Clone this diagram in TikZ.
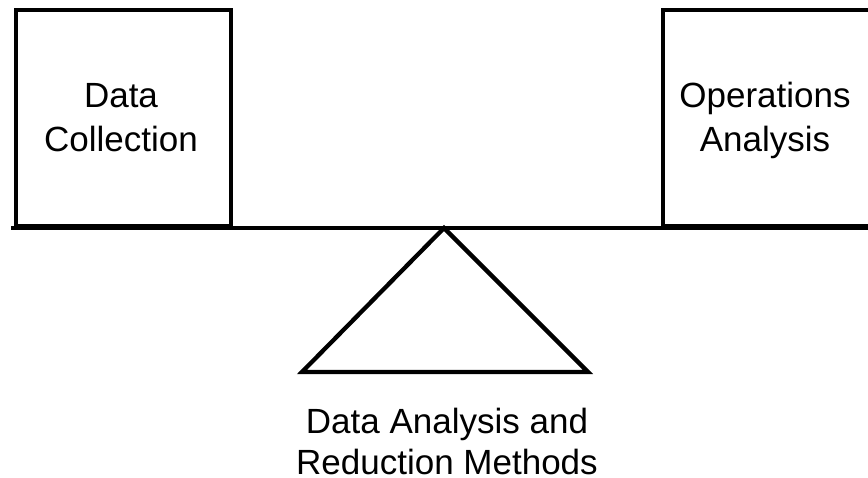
\documentclass[tikz,border=0pt]{standalone}
\usepackage{fontspec}
\setmainfont{Liberation Sans}
\begin{document}
\begin{tikzpicture}[x=1pt,y=-1pt,
  outline/.style={draw=black,line width=4.3pt},
  boxlabel/.style={align=center,anchor=base,inner sep=0pt,
    font=\fontsize{35}{44}\selectfont},
  baselabel/.style={align=center,anchor=base,inner sep=0pt,
    font=\fontsize{35}{41}\selectfont}]
  \useasboundingbox (0,0) rectangle (868,478);
  \clip (0,0) rectangle (868,478);

  % the two pans resting on the beam
  \node[outline,rectangle,inner sep=0pt,minimum width=215pt,minimum height=216pt,
        anchor=south west] (collect) at (14,228) {};
  \node[outline,rectangle,inner sep=0pt,minimum width=230pt,minimum height=216pt,
        anchor=south west] (ops) at (661,228) {};

  % the beam
  \coordinate (beamL) at (11,228);
  \coordinate (beamR) at (880,228);
  \draw[outline] (beamL) -- (beamR);

  % the fulcrum
  \coordinate (apex) at (444,228);
  \coordinate (footL) at (302,372);
  \coordinate (footR) at (588,372);
  \draw[outline,line join=miter] (apex) -- (footR) -- (footL) -- cycle;

  % labels (anchored on the baseline of the last line)
  \node[boxlabel] (collectText) at (121,152) {Data\\Collection};
  \node[boxlabel] (opsText) at (765,152) {Operations\\Analysis};
  \node[baselabel] (fulcrumText) at (447,474) {Data Analysis and\\Reduction Methods};
\end{tikzpicture}
\end{document}
